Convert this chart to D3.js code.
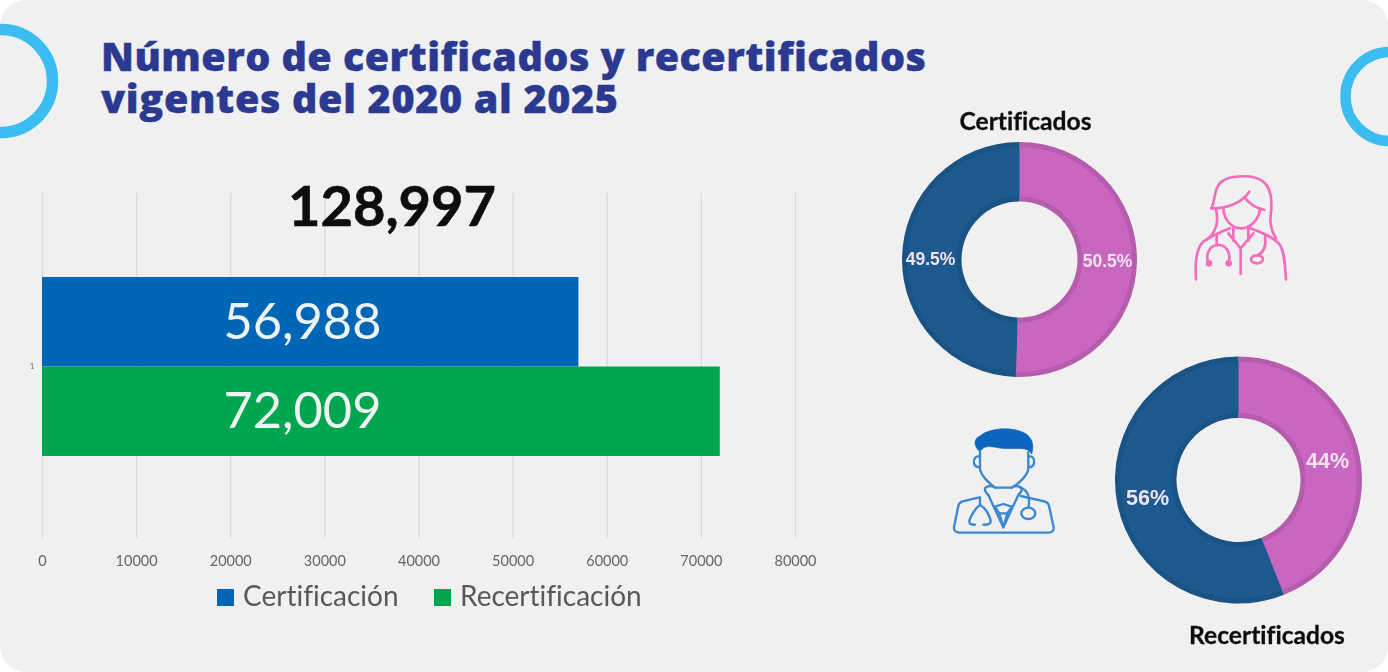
<!DOCTYPE html>
<html lang="es"><head><meta charset="utf-8">
<script src="https://cdn.jsdelivr.net/npm/d3@7"></script>
<style>
html,body{margin:0;padding:0;background:#fff}
svg{display:block}
text{font-family:Lato,"Open Sans",sans-serif;font-variant-ligatures:none}
</style></head><body>
<svg id="c" width="1388" height="672"></svg>
<script>
const titleLines=["Número de certificados y recertificados","vigentes del 2020 al 2025"];
const categories=["1"];
const seriesNames=["Certificación","Recertificación"];
const seriesValues=[56988,72009];
const seriesLabels=["56,988","72,009"];
const seriesColors=["#0066b5","#00a54f"];
const totalLabel="128,997";
const xTicks=[0,10000,20000,30000,40000,50000,60000,70000,80000];
const donut1Title="Certificados";
const donut1Values=[50.5,49.5];
const donut1Labels=["50.5%","49.5%"];
const donut2Title="Recertificados";
const donut2Values=[44,56];
const donut2Labels=["44%","56%"];
const donutColors=["#c966bf","#1c5a90"];
const donutEdges=["#b65bad","#1a5285"];

const svg=d3.select("#c");
const defs=svg.append("defs");
defs.append("filter").attr("id","soft").attr("x","-5%").attr("y","-5%").attr("width","110%").attr("height","110%")
  .append("feGaussianBlur").attr("stdDeviation",0.6);
defs.append("clipPath").attr("id","card").append("rect").attr("width",1388).attr("height",672).attr("rx",26);

const root=svg.append("g").attr("clip-path","url(#card)");
root.append("rect").attr("width",1388).attr("height",672).attr("fill","#f0f0f1");

// corner rings
root.append("circle").attr("cx",1).attr("cy",81).attr("r",51.5).attr("fill","none").attr("stroke","#3bbdf1").attr("stroke-width",11.5);
root.append("circle").attr("cx",1390).attr("cy",96.5).attr("r",44.5).attr("fill","none").attr("stroke","#3bbdf1").attr("stroke-width",10.5);

// title
const titleWidths=[825,517];
root.append("text")
  .attr("font-size",39.5).attr("font-weight",800).attr("fill","#2b3990")
  .style("font-family","'Open Sans',sans-serif")
  .attr("stroke","#2b3990").attr("stroke-width",0.4)
  .selectAll("tspan").data(titleLines).join("tspan")
  .attr("x",101).attr("y",(d,i)=>71+i*42)
  .attr("textLength",(d,i)=>titleWidths[i]).attr("lengthAdjust","spacing")
  .text(d=>d);

// bar chart
const chart=root.append("g").attr("filter","url(#soft)");
const x=d3.scaleLinear().domain([0,80000]).range([42,795]);
const yOuter=d3.scaleBand().domain(categories).range([193,538]);
const yInner=d3.scaleBand().domain(seriesNames).range([277,456]);

const axis=d3.axisBottom(x).tickValues(xTicks).tickFormat(d3.format("d")).tickSize(-345).tickPadding(28);
const ax=chart.append("g").attr("transform","translate(0,538)").call(axis);
ax.select(".domain").remove();
ax.selectAll(".tick line").attr("stroke","#d9d9d9").attr("stroke-width",1.2);
ax.selectAll(".tick text").attr("font-size",14.5).attr("fill","#666").attr("dy",0);

chart.append("text").attr("x",32).attr("y",yOuter(categories[0])+yOuter.bandwidth()/2+3)
  .attr("text-anchor","middle").attr("font-size",7).attr("fill","#666").text(categories[0]);

chart.append("g").selectAll("rect").data(seriesValues).join("rect")
  .attr("x",x(0)).attr("y",(d,i)=>yInner(seriesNames[i])).attr("width",d=>x(d)-x(0))
  .attr("height",yInner.bandwidth()).attr("fill",(d,i)=>seriesColors[i]);

chart.append("g").selectAll("text").data(seriesLabels).join("text")
  .attr("x",302.5).attr("y",(d,i)=>yInner(seriesNames[i])+yInner.bandwidth()/2+17)
  .attr("text-anchor","middle").attr("font-size",50.5).attr("fill","#edf3f3").text(d=>d);

chart.append("text").attr("x",392).attr("y",226).attr("text-anchor","middle")
  .attr("font-size",56).attr("font-weight",700).attr("fill","#0a0a0a").attr("stroke","#0a0a0a").attr("stroke-width",0.6).text(totalLabel);

// legend
const legendX=[217,434], legendTextX=[243,460];
const lg=chart.append("g").selectAll("g").data(seriesNames).join("g");
lg.append("rect").attr("x",(d,i)=>legendX[i]).attr("y",589).attr("width",17).attr("height",17).attr("fill",(d,i)=>seriesColors[i]);
lg.append("text").attr("x",(d,i)=>legendTextX[i]).attr("y",606).attr("font-size",28).attr("fill","#595959").text(d=>d);

// donuts
function donut(cx,cy,R,r,vals,labels,labelPos){
  const g=root.append("g").attr("transform",`translate(${cx},${cy})`).attr("filter","url(#soft)");
  const arcs=d3.pie().sort(null)(vals);
  g.append("g").selectAll("path").data(arcs).join("path")
    .attr("d",d3.arc().innerRadius(r).outerRadius(R)).attr("fill",(d,i)=>donutEdges[i]);
  g.append("g").selectAll("path").data(arcs).join("path")
    .attr("d",d3.arc().innerRadius(r+5).outerRadius(R-5)).attr("fill",(d,i)=>donutColors[i]);
  g.selectAll("text").data(labels).join("text")
    .attr("x",(d,i)=>labelPos[i][0]).attr("y",(d,i)=>labelPos[i][1])
    .attr("text-anchor","middle").attr("font-weight",700)
    .attr("font-size",labelPos[2]).attr("fill","#efe4ee").style("font-family","'Liberation Sans'").text(d=>d);
}
donut(1019.5,259.5,117.5,58,donut1Values,donut1Labels,[[88,7],[-89,5],17.5]);
donut(1238.5,480,123.5,62,donut2Values,donut2Labels,[[89,-12],[-91,25],21.5]);

const dt=root.append("g").attr("filter","url(#soft)");
dt.append("text").attr("x",1025.5).attr("y",130).attr("text-anchor","middle").attr("font-size",24.6).attr("font-weight",700)
  .attr("fill","#111").attr("stroke","#111").attr("stroke-width",0.3).text(donut1Title);
dt.append("text").attr("x",1267).attr("y",644).attr("text-anchor","middle").attr("font-size",24.6).attr("font-weight",700)
  .attr("fill","#111").attr("stroke","#111").attr("stroke-width",0.3).text(donut2Title);

// female icon (zoomed crop coordinates, 3x)
const fem=root.append("g").attr("transform","translate(1150,0) scale(0.3333)").attr("filter","url(#soft)")
  .attr("fill","none").attr("stroke","#f26dbb").attr("stroke-width",8).attr("stroke-linecap","round").attr("stroke-linejoin","round");
["M184 625C197 600 190 565 215 545C240 525 312 522 340 545C365 565 367 600 363 640C358 670 365 695 378 715",
 "M184 625C228 626 275 610 298 575","M283 592C295 610 320 625 343 630","M198 628C206 660 202 692 172 718",
 "M220 625C222 660 245 685 272 685C300 685 328 660 330 625",
 "M138 838C135 790 140 742 160 725C175 715 200 700 240 685","M300 685C330 695 375 715 390 735C405 760 405 800 408 838",
 "M235 700L272 745L310 700","M272 745V822","M250 685V722","M295 685V722",
 "M175 790C165 760 180 735 205 735C230 735 245 760 235 790","M200 705V735","M345 710C350 740 342 755 325 765"
].forEach(d=>fem.append("path").attr("d",d));
fem.append("ellipse").attr("cx",321).attr("cy",778).attr("rx",18).attr("ry",12);
fem.append("circle").attr("cx",177).attr("cy",790).attr("r",6).attr("fill","#f26dbb");
fem.append("circle").attr("cx",236).attr("cy",790).attr("r",6).attr("fill","#f26dbb");

// male icon
const mal=root.append("g").attr("transform","translate(930,410) scale(0.3333)").attr("filter","url(#soft)")
  .attr("fill","none").attr("stroke","#3a88d0").attr("stroke-width",7).attr("stroke-linecap","round").attr("stroke-linejoin","round");
mal.append("path").attr("d","M150 125C130 110 130 85 150 78C180 52 250 50 285 70C310 85 312 110 305 132C295 108 260 118 215 115C190 112 165 100 150 125Z")
  .attr("fill","#0f66bd").attr("stroke","#0f66bd").attr("stroke-width",2);
["M150 125V175C150 195 180 222 195 233H245C265 222 295 195 295 175V125",
 "M150 140C135 135 130 150 132 160C134 170 142 172 150 172","M295 140C310 135 314 150 312 160C310 170 302 172 295 172",
 "M175 255C145 225 190 225 195 233","M265 255C295 225 250 225 245 233",
 "M148 262L95 275C88 278 85 285 84 292L72 352C71 362 78 368 88 368H356C366 368 372 362 371 352L358 292C357 285 354 278 346 275L272 258",
 "M175 255L220 352L265 255","M195 290L220 282L245 290L232 310H208Z","M208 310L220 352L232 310",
 "M150 262V285C135 295 118 325 118 335C118 342 125 345 135 344","M150 285C170 295 182 325 182 335C182 342 172 345 160 344",
 "M270 232C295 240 300 262 296 290"
].forEach(d=>mal.append("path").attr("d",d));
mal.append("ellipse").attr("cx",295).attr("cy",310).attr("rx",21).attr("ry",17);
</script>
</body></html>
